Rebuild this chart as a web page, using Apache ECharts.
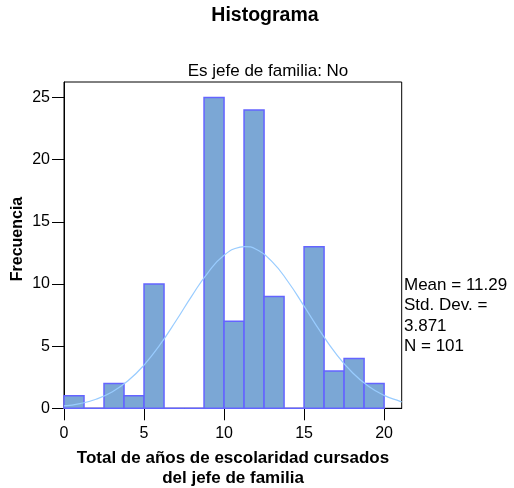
<!DOCTYPE html>
<html>
<head>
<meta charset="utf-8">
<script src="https://cdn.jsdelivr.net/npm/echarts@6/dist/echarts.min.js"></script>
<style>
    html, body { margin: 0; padding: 0; background: #fff; }
    #chart { width: 514px; height: 488px; }
</style>
</head>
<body>
<div id="chart"></div>
<script>
    // histogram bins (width 1.25) and counts
    const binLow  = [0, 1.25, 2.5, 3.75, 5, 6.25, 7.5, 8.75, 10, 11.25, 12.5, 13.75, 15, 16.25, 17.5, 18.75]
    const binHigh = [1.25, 2.5, 3.75, 5, 6.25, 7.5, 8.75, 10, 11.25, 12.5, 13.75, 15, 16.25, 17.5, 18.75, 20]
    const counts  = [1, 0, 2, 1, 10, 0, 0, 25, 7, 24, 9, 0, 13, 3, 4, 2]

    // fitted normal curve
    const normalX = [0, 1, 2, 3, 4, 5, 6, 7, 8, 9, 10, 11, 11.29, 12, 13, 14, 15, 16, 17, 18, 19, 20, 21, 21.1]
    const normalY = [0.19, 0.38, 0.73, 1.31, 2.21, 3.48, 5.12, 7.04, 9.07, 10.92, 12.31, 12.97, 13.01, 12.79, 11.8, 10.18, 8.22, 6.21, 4.38, 2.9, 1.79, 1.04, 0.56, 0.52]

    const xTicks = [0, 5, 10, 15, 20]
    const yTicks = [0, 5, 10, 15, 20, 25]

    const statsLines = ['Mean = 11.29', 'Std. Dev. =', '3.871', 'N = 101']

    const font = 'Liberation Sans'
    const chart = echarts.init(document.getElementById('chart'))

    const barData = binLow.map((lo, i) => [lo, binHigh[i], counts[i]])

    const option = {
        animation: false,
        textStyle: { fontFamily: font },
        grid: {
            left: 64,
            top: 82,
            width: 337.7,
            height: 326.3,
            show: true,
            borderColor: '#000',
            borderWidth: 1,
            backgroundColor: '#fff'
        },
        xAxis: {
            type: 'value',
            min: 0,
            max: 21.1,
            interval: 5,
            axisLine: { show: true, onZero: false, lineStyle: { color: '#000', width: 1 } },
            axisTick: { show: true, inside: false, length: 12, customValues: xTicks, lineStyle: { color: '#000' } },
            axisLabel: { inside: false, customValues: xTicks, color: '#000', fontSize: 16, margin: 17, fontFamily: font },
            splitLine: { show: false }
        },
        yAxis: {
            type: 'value',
            min: 0,
            max: 26.25,
            interval: 5,
            axisLine: { show: true, onZero: false, lineStyle: { color: '#000', width: 1 } },
            axisTick: { show: true, inside: false, length: 12, customValues: yTicks, lineStyle: { color: '#000' } },
            axisLabel: { inside: false, customValues: yTicks, color: '#000', fontSize: 16, margin: 14, fontFamily: font },
            splitLine: { show: false }
        },
        graphic: [
            {
                type: 'text', x: 265, y: 16,
                style: { text: 'Histograma', font: 'bold 19.5px ' + font, fill: '#000', align: 'center', verticalAlign: 'middle' }
            },
            {
                type: 'text', x: 268, y: 71,
                style: { text: 'Es jefe de familia: No', font: '17px ' + font, fill: '#000', align: 'center', verticalAlign: 'middle' }
            },
            {
                type: 'text', x: 18, y: 239, rotation: Math.PI / 2,
                style: { text: 'Frecuencia', font: 'bold 16px ' + font, fill: '#000', align: 'center', verticalAlign: 'middle' }
            },
            {
                type: 'text', x: 233, y: 468,
                style: { text: 'Total de años de escolaridad cursados\ndel jefe de familia', font: 'bold 17px ' + font, fill: '#000', align: 'center', verticalAlign: 'middle', lineHeight: 20 }
            },
            {
                type: 'text', x: 404, y: 275,
                style: { text: statsLines.join('\n'), font: '17px ' + font, fill: '#000', lineHeight: 20.5 }
            }
        ],
        series: [
            {
                type: 'custom',
                data: barData,
                encode: { x: [0, 1], y: 2 },
                renderItem: function (params, api) {
                    const p0 = api.coord([api.value(0), 0])
                    const p1 = api.coord([api.value(1), api.value(2)])
                    return {
                        type: 'rect',
                        shape: { x: p0[0], y: p1[1], width: p1[0] - p0[0], height: p0[1] - p1[1] },
                        style: { fill: '#7BA7D5', stroke: '#6464FF', lineWidth: 1.5 }
                    }
                },
                z: 2
            },
            {
                type: 'line',
                data: normalX.map((x, i) => [x, normalY[i]]),
                smooth: true,
                symbol: 'none',
                lineStyle: { color: '#99CCFF', width: 1.2 },
                z: 3
            }
        ]
    }

    chart.setOption(option)
</script>
</body>
</html>
